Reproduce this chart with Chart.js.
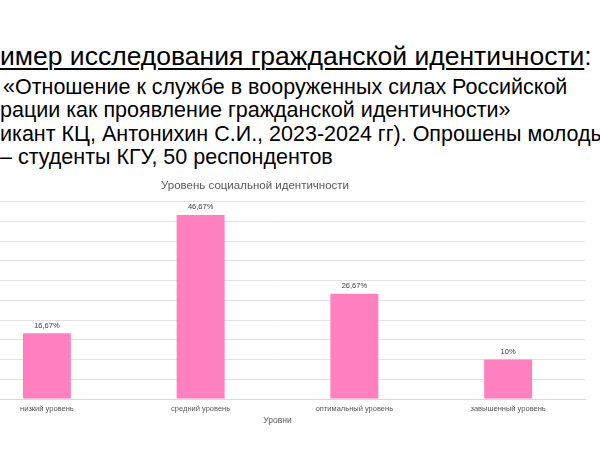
<!DOCTYPE html>
<html lang="ru">
<head>
  <meta charset="UTF-8">
  <title>Уровень социальной идентичности</title>
  <script src="https://cdn.jsdelivr.net/npm/chart.js"></script>
  <style>
    html, body { margin: 0; padding: 0; background: #fff; }
    body { width: 600px; height: 450px; overflow: hidden; position: relative; font-family: Arial, "Liberation Sans", sans-serif; color: #000; }
    .ln { position: absolute; white-space: nowrap; line-height: 1; }
    .head { font-size: 26.5px; left: 0; top: 42.6px; }
    .head u { text-decoration-thickness: 1.5px; text-underline-offset: 3px; }
    .sub { font-size: 21.5px; }
    #wrap { position: absolute; left: -75px; top: 170px; width: 675px; height: 260px; }
  </style>
</head>
<body>

<div class="ln head"><u>имер исследования гражданской идентичности</u>:</div>
<div class="ln sub" style="left:3px; top:76.8px;">«Отношение к службе в вооруженных силах Российской</div>
<div class="ln sub" style="left:0; top:99.8px;">рации как проявление гражданской идентичности»</div>
<div class="ln sub" style="left:0; top:123.8px;">икант КЦ, Антонихин С.И., 2023-2024 гг). Опрошены молодые</div>
<div class="ln sub" style="left:0; top:146.8px;">– студенты КГУ, 50 респондентов</div>

<div id="wrap"><canvas id="grafico"></canvas></div>

<script>
  // данные с графика
  const urovni = ['низкий уровень', 'средний уровень', 'оптимальный уровень', 'завышенный уровень'];
  const procenty = [16.67, 46.67, 26.67, 10];
  const yMin = 0, yMax = 50, yStep = 5;

  const shrift = 'Arial, "Liberation Sans", sans-serif';

  function formatProcent(v) {
    return (Number.isInteger(v) ? String(v) : v.toFixed(2).replace('.', ',')) + '%';
  }

  // подписи значений над столбцами
  const podpisi = {
    id: 'podpisi',
    afterDatasetsDraw(chart) {
      const ctx = chart.ctx;
      const meta = chart.getDatasetMeta(0);
      ctx.save();
      ctx.font = '7.5px ' + shrift;
      ctx.fillStyle = '#404040';
      ctx.textAlign = 'center';
      ctx.textBaseline = 'bottom';
      meta.data.forEach((bar, i) => {
        ctx.fillText(formatProcent(chart.data.datasets[0].data[i]), bar.x, bar.y - 4);
      });
      ctx.restore();
    }
  };

  new Chart(document.getElementById('grafico'), {
    type: 'bar',
    data: {
      labels: urovni,
      datasets: [{
        data: procenty,
        backgroundColor: '#ff80bf',
        borderWidth: 0,
        categoryPercentage: 1,
        barPercentage: 0.312
      }]
    },
    options: {
      responsive: true,
      maintainAspectRatio: false,
      animation: false,
      layout: { padding: { left: 0, right: 15, top: 0, bottom: 0 } },
      plugins: {
        legend: { display: false },
        tooltip: { enabled: false },
        title: {
          display: true,
          text: 'Уровень социальной идентичности',
          color: '#595959',
          font: { family: shrift, size: 11.5, weight: 'normal' },
          padding: { top: 9, bottom: 9 }
        }
      },
      scales: {
        x: {
          afterFit: (s) => { s.height = 31; },
          grid: { display: false, drawTicks: false },
          border: { color: '#d9d9d9' },
          ticks: { color: '#595959', font: { family: shrift, size: 7.5 }, padding: 5 },
          title: {
            display: true,
            text: 'Уровни',
            color: '#595959',
            font: { family: shrift, size: 8.5 },
            padding: { top: 1, bottom: 4 }
          }
        },
        y: {
          min: yMin,
          max: yMax,
          afterFit: (s) => { s.width = 45; },
          ticks: { stepSize: yStep, display: false },
          grid: { color: '#e3e3e3', drawTicks: false },
          border: { display: false }
        }
      }
    },
    plugins: [podpisi]
  });
</script>

</body>
</html>
